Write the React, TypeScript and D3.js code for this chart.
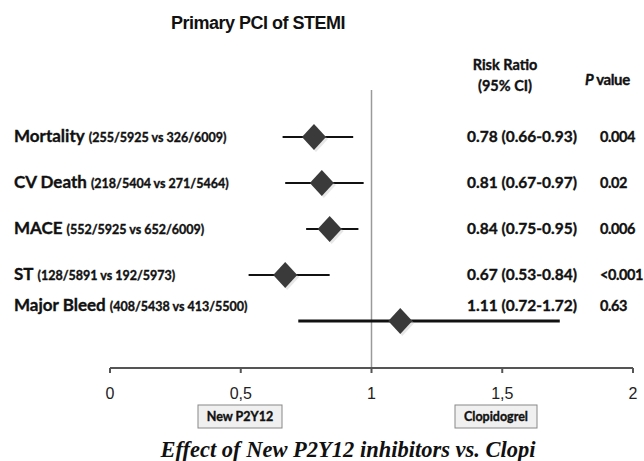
import { scaleLinear, scalePoint, line } from "d3";

const WIDTH = 644;
const HEIGHT = 461;

const OUTCOMES = ["Mortality", "CV Death", "MACE", "ST", "Major Bleed"];
const COUNTS = [
  "(255/5925 vs 326/6009)",
  "(218/5404 vs 271/5464)",
  "(552/5925 vs 652/6009)",
  "(128/5891 vs 192/5973)",
  "(408/5438 vs 413/5500)",
];
const RISK_RATIO = [0.78, 0.81, 0.84, 0.67, 1.11];
const CI_LOW = [0.66, 0.67, 0.75, 0.53, 0.72];
const CI_HIGH = [0.93, 0.97, 0.95, 0.84, 1.72];
const RR_LABELS = [
  "0.78 (0.66-0.93)",
  "0.81 (0.67-0.97)",
  "0.84 (0.75-0.95)",
  "0.67 (0.53-0.84)",
  "1.11 (0.72-1.72)",
];
const P_VALUES = ["0.004", "0.02", "0.006", "<0.001", "0.63"];
const TICKS = [0, 0.5, 1, 1.5, 2];
const TICK_LABELS = ["0", "0,5", "1", "1,5", "2"];

const LABEL_FONT = "Lato, 'Open Sans', sans-serif";

export default function App() {
  const x = scaleLinear().domain([0, 2]).range([110, 633]);
  const y = scalePoint<string>().domain(OUTCOMES).range([137, 321]);
  const axisY = 368;

  const diamond = (cx: number, cy: number) =>
    line()([
      [cx, cy - 13],
      [cx + 12, cy],
      [cx, cy + 13],
      [cx - 12, cy],
      [cx, cy - 13],
    ]) ?? "";

  // heavier look, the source used a black Calibri
  const heavy = { stroke: "#111", strokeWidth: 0.35 };

  return (
    <svg width={WIDTH} height={HEIGHT} style={{ position: "absolute", left: 0, top: 0 }}>
      <rect width={WIDTH} height={HEIGHT} fill="#fff" />
      <text x={258} y={29} textAnchor="middle" fontFamily="'Liberation Sans', Arial, sans-serif"
        fontWeight="bold" fontSize={18} letterSpacing={-0.5} fill="#111">
        Primary PCI of STEMI
      </text>

      <text x={505} y={70} textAnchor="middle" fontFamily={LABEL_FONT} fontWeight="bold" fontSize={14.5} fill="#111" {...heavy}>
        Risk Ratio
      </text>
      <text x={505} y={91} textAnchor="middle" fontFamily={LABEL_FONT} fontWeight="bold" fontSize={14.5} fill="#111" {...heavy}>
        (95% CI)
      </text>
      <text x={585} y={85} fontFamily={LABEL_FONT} fontWeight="bold" fontSize={15} letterSpacing={-0.4} fill="#111" {...heavy}>
        <tspan fontStyle="italic">P</tspan> value
      </text>

      <line x1={x(1)} x2={x(1)} y1={90} y2={axisY} stroke="#9a9a9a" strokeWidth={1.5} />

      <line x1={x(0)} x2={x(2)} y1={axisY} y2={axisY} stroke="#555" strokeWidth={2} />
      {TICKS.map((t, i) => (
        <g key={t}>
          <line x1={x(t)} x2={x(t)} y1={axisY} y2={axisY + 5} stroke="#555" strokeWidth={2} />
          <text x={x(t)} y={axisY + 31} textAnchor="middle"
            fontFamily="'Liberation Sans', Arial, sans-serif" fontSize={16} fill="#222">
            {TICK_LABELS[i]}
          </text>
        </g>
      ))}

      {OUTCOMES.map((name, i) => {
        const cy = y(name) ?? 0;
        const ty = cy + (i === 4 ? -10 : 5);
        return (
          <g key={name}>
            <text x={14} y={ty} fontFamily={LABEL_FONT} fill="#111" {...heavy}>
              <tspan fontWeight="bold" fontSize={17}>{name}</tspan>
              <tspan fontWeight="bold" fontSize={12.5} dx={4}>{COUNTS[i]}</tspan>
            </text>
            <line x1={x(CI_LOW[i])} x2={x(CI_HIGH[i])} y1={cy} y2={cy}
              stroke="#111" strokeWidth={i === 4 ? 3 : 2} />
            <path d={diamond(x(RISK_RATIO[i]) + 2, cy + 2)} fill="#bbb" opacity={0.35} />
            <path d={diamond(x(RISK_RATIO[i]), cy)} fill="#3a3a3a" />
            <text x={467} y={ty} fontFamily={LABEL_FONT} fontWeight="bold" fontSize={15.5} fill="#111" {...heavy}>
              {RR_LABELS[i]}
            </text>
            <text x={600} y={ty} fontFamily={LABEL_FONT} fontWeight="bold" fontSize={14.5} letterSpacing={-0.4} fill="#111" {...heavy}>
              {P_VALUES[i]}
            </text>
          </g>
        );
      })}

      <rect x={198} y={405} width={84} height={23} fill="#f0f0f0" stroke="#888" strokeWidth={1} />
      <text x={240} y={421} textAnchor="middle" fontFamily={LABEL_FONT} fontWeight="bold" fontSize={12.5} fill="#111" {...heavy}>
        New P2Y12
      </text>
      <rect x={455} y={405} width={82} height={23} fill="#f0f0f0" stroke="#888" strokeWidth={1} />
      <text x={496} y={421} textAnchor="middle" fontFamily={LABEL_FONT} fontWeight="bold" fontSize={12.5} fill="#111" {...heavy}>
        Clopidogrel
      </text>

      <text x={348} y={457} textAnchor="middle" fontFamily="'Liberation Serif', 'DejaVu Serif', serif"
        fontWeight="bold" fontStyle="italic" fontSize={22.5} fill="#111">
        Effect of New P2Y12 inhibitors vs. Clopi
      </text>
    </svg>
  );
}
